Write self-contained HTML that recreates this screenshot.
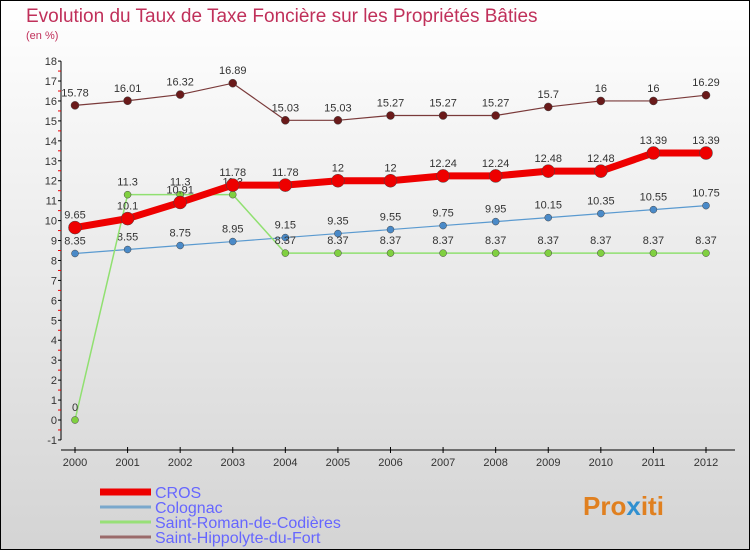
<!DOCTYPE html>
<html><head><meta charset="utf-8"><style>
html,body{margin:0;padding:0;}
body{width:750px;height:550px;overflow:hidden;font-family:"Liberation Sans",sans-serif;}
</style></head><body>
<svg id="chart" width="750" height="550" xmlns="http://www.w3.org/2000/svg">
<defs><linearGradient id="bg" x1="0" y1="0" x2="0" y2="1"><stop offset="0" stop-color="#ffffff"/><stop offset="1" stop-color="#d4d4d4"/></linearGradient></defs>
<rect x="0.5" y="0.5" width="749" height="549" fill="url(#bg)" stroke="#000" stroke-width="1"/>
<text x="26" y="22" font-size="19" fill="#c0305a">Evolution du Taux de Taxe Foncière sur les Propriétés Bâties</text>
<text x="26" y="39" font-size="11" fill="#c0305a">(en %)</text>
<g id="axes"></g><g id="series"></g><g id="legend"></g>
<text x="583" y="515" font-size="26" font-weight="bold" fill="#e08020">Pro<tspan fill="#3090d0">x</tspan>iti</text>
</svg>
<script>
const years=["2000","2001","2002","2003","2004","2005","2006","2007","2008","2009","2010","2011","2012"];
const yTicks=[-1,0,1,2,3,4,5,6,7,8,9,10,11,12,13,14,15,16,17,18];
const cros=[9.65,10.1,10.91,11.78,11.78,12,12,12.24,12.24,12.48,12.48,13.39,13.39];
const colognac=[8.35,8.55,8.75,8.95,9.15,9.35,9.55,9.75,9.95,10.15,10.35,10.55,10.75];
const saintRoman=[0,11.3,11.3,11.3,8.37,8.37,8.37,8.37,8.37,8.37,8.37,8.37,8.37];
const saintHippolyte=[15.78,16.01,16.32,16.89,15.03,15.03,15.27,15.27,15.27,15.7,16,16,16.29];
const seriesNames=["CROS","Colognac","Saint-Roman-de-Codières","Saint-Hippolyte-du-Fort"];

const NS="http://www.w3.org/2000/svg";
const xs=i=>75+i*(706-75)/(years.length-1);
const ys=v=>420-v*19.94;
function mk(tag,attrs,parent,text){const e=document.createElementNS(NS,tag);for(const k in attrs)e.setAttribute(k,attrs[k]);if(text!==undefined)e.textContent=text;parent.appendChild(e);return e;}
const axes=document.getElementById('axes');
let el=mk('line',{x1:61,y1:ys(18),x2:61,y2:ys(-1),stroke:'#000','stroke-width':1},axes);


yTicks.forEach(t=>{
  mk('line',{x1:58,y1:ys(t),x2:61,y2:ys(t),stroke:'#000'},axes);
  if(t<18) mk('line',{x1:58,y1:ys(t+0.5),x2:61,y2:ys(t+0.5),stroke:'#e00'},axes);
  const tx=mk('text',{x:57,y:ys(t)+4,'font-size':11,'text-anchor':'end',fill:'#333'},axes,String(t));
  
  
});
el=mk('line',{x1:61,y1:450,x2:735,y2:450,stroke:'#000','stroke-width':1},axes);


years.forEach((y,i)=>{
  mk('line',{x1:xs(i),y1:447,x2:xs(i),y2:453,stroke:'#000'},axes);
  const tx=mk('text',{x:xs(i),y:466,'font-size':11,'text-anchor':'middle',fill:'#333'},axes,y);
  
  
});
const sg=document.getElementById('series');
function draw(vals,color,w,r,name,fill){
  const g=mk('g',{},sg);
  
  
  mk('polyline',{points:vals.map((v,i)=>xs(i)+','+ys(v)).join(' '),fill:'none',stroke:color,'stroke-width':w},g);
  vals.forEach((v,i)=>{
    const c=mk('circle',{cx:xs(i),cy:ys(v),r:r,fill:fill,stroke:'#444','stroke-width':0.5},g);
    
    
    const t=mk('text',{x:xs(i),y:ys(v)-9,'font-size':11,'text-anchor':'middle',fill:'#333'},g,String(v));
    
    
  });
}
draw(saintHippolyte,'#7a3a3a',1.2,4,'saint-hippolyte-series','#6a1a1a');
draw(colognac,'#5a9ad0',1.2,3.5,'colognac-series','#4a8ac8');
draw(saintRoman,'#90e070',1.5,3.5,'saint-roman-series','#80d040');
draw(cros,'#ee0000',7,6.5,'cros-series','#ee0000');
const lg=document.getElementById('legend');
const lcols=['#ee0000','#7aa8cc','#98e078','#9a6a6a'];
const lw=[7,3,3,3];
seriesNames.forEach((n,i)=>{
  const y=492+i*15;
  const g=mk('g',{},lg);
  
  
  mk('line',{x1:100,y1:y,x2:151,y2:y,stroke:lcols[i],'stroke-width':lw[i]},g);
  mk('text',{x:155,y:y+6,'font-size':16,fill:'#6666ff'},g,n);
});
</script>
</body></html>
